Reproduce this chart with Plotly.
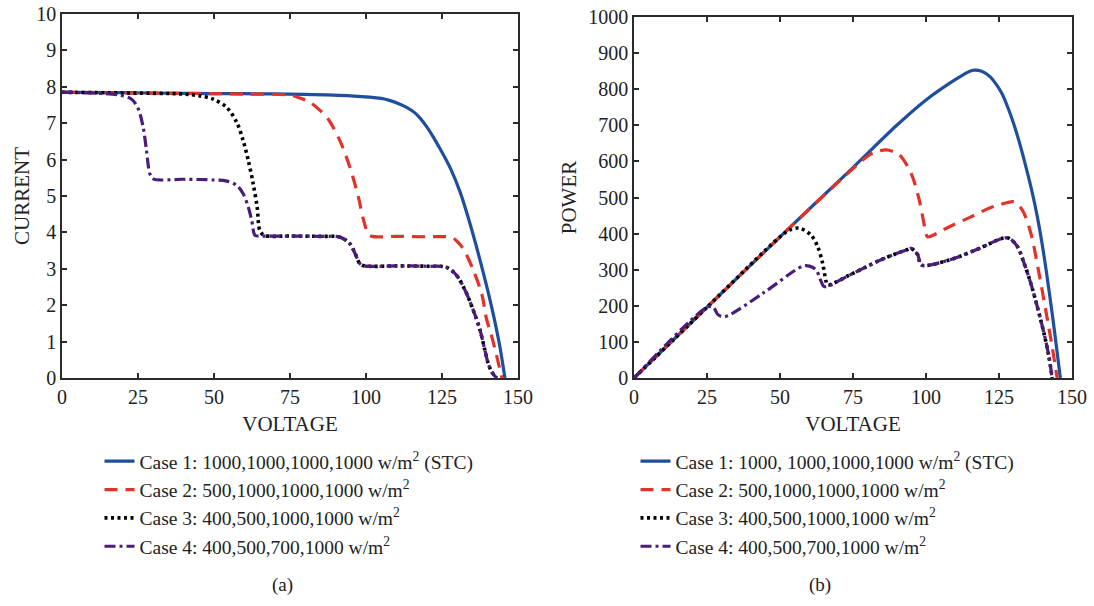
import plotly.graph_objects as go

# ---------------- I-V data (panel a) ----------------
c1_iv_v = [0, 20, 40, 60, 80, 95, 105, 108, 111, 113.5, 116, 118, 120, 122, 124, 126, 128, 131, 134, 137, 140, 142, 144, 145.7]
c1_iv_i = [7.85, 7.84, 7.82, 7.81, 7.79, 7.75, 7.68, 7.62, 7.53, 7.43, 7.29, 7.12, 6.90, 6.64, 6.35, 6.05, 5.72, 5.10,
           4.30, 3.40, 2.42, 1.70, 0.88, 0.0]

c2_iv_v = [0, 20, 40, 60, 75, 78.3, 81.6, 84.5, 87.6, 91.4, 94.7, 97.5, 99.1, 100.8, 102, 110, 120, 128.2,
           130, 132, 135.3, 138.1, 139.7, 141, 143, 144.7]
c2_iv_i = [7.85, 7.83, 7.82, 7.80, 7.77, 7.69, 7.57, 7.38, 7.11, 6.52, 5.79, 4.97, 4.37, 3.95, 3.89, 3.89, 3.88, 3.86,
           3.75, 3.55, 2.96, 2.30, 1.60, 1.25, 0.60, 0.0]

c3_iv_v = [0, 20, 40, 45.4, 49.8, 54.2, 57.5, 59.6, 61.3, 62.9, 64.2, 65.1, 66.5, 75, 85, 91.4, 94.7, 96.4, 98,
           99.5, 110, 120, 126.5, 129.8, 132.6, 135.3, 137.5, 139.1, 140.2, 141.5, 143]
c3_iv_i = [7.85, 7.83, 7.80, 7.75, 7.66, 7.43, 7.02, 6.52, 5.97, 5.33, 4.69, 4.05, 3.92, 3.90, 3.89, 3.87, 3.69, 3.42, 3.14,
           3.08, 3.08, 3.07, 3.04, 2.82, 2.41, 1.86, 1.32, 0.77, 0.40, 0.15, 0.0]

c4_iv_v = [0, 10, 19.1, 22.9, 25.1, 26.7, 27.8, 28.9, 30, 40, 50, 54.2, 57.5, 59.6, 61.3, 62.4, 63.5, 65, 75, 85,
           91.4, 94.7, 96.4, 98, 99.5, 110, 120, 126.5, 129.8, 132.6, 135.3, 137.5, 139.1, 140.2, 141.5, 143]
c4_iv_i = [7.85, 7.83, 7.77, 7.66, 7.39, 6.89, 6.25, 5.61, 5.47, 5.46, 5.44, 5.41, 5.29, 5.06, 4.69, 4.33, 3.92, 3.90, 3.90, 3.89,
           3.87, 3.69, 3.42, 3.14, 3.08, 3.08, 3.07, 3.04, 2.82, 2.41, 1.86, 1.32, 0.77, 0.40, 0.15, 0.0]

# ---------------- P-V data (panel b) ----------------
c1_pv_v = [0, 25, 50, 75, 90, 100, 108, 113, 115, 116.5, 118, 120, 122, 124, 126, 128, 130, 132, 134, 136, 138,
           140, 142, 144, 146]
c1_pv_p = [0, 196, 391, 583, 700, 770, 816, 841, 850, 853, 852, 846, 834, 814, 788, 750, 705, 652, 592, 527, 452,
           360, 250, 130, 0]

c2_pv_v = [0, 25, 50, 75, 80.6, 83.5, 86.3, 88.5, 90.9, 94.9, 97.7, 100, 100.5, 108, 115, 121.6, 126, 130.2,
           133, 135.9, 138.7, 141, 143.2, 144.9]
c2_pv_p = [0, 196, 391, 580, 618, 628, 632, 628, 618, 567, 493, 401, 391, 419, 445, 470, 482, 488,
           465, 401, 290, 188, 87, 0]

c3_pv_v = [0, 25, 50, 53.3, 56.7, 60.6, 62.9, 64.6, 65.8, 66.4, 73.8, 85, 93.7, 94.9, 97.2, 98.4, 108, 118,
           126.2, 128.5, 131.3, 133.6, 135.9, 138.1, 140.4, 142.1, 143.2]
c3_pv_p = [0, 196, 391, 410, 415, 396, 364, 318, 267, 258, 285, 329, 356, 359, 341, 313, 327, 358,
           387, 387, 364, 318, 262, 198, 124, 59, 0]

c4_pv_v = [0, 25, 27.1, 28.8, 31.1, 44.2, 57.8, 60.1, 62.4, 64.1, 65.2, 73.8, 85, 93.7, 94.9, 97.2, 98.4, 108,
           118, 126.2, 128.5, 131.3, 133.6, 135.9, 138.1, 140.4, 142.1, 143.2]
c4_pv_p = [0, 196, 197, 175, 170, 235, 310, 310, 299, 267, 253, 285, 329, 356, 359, 341, 313, 327,
           358, 387, 387, 364, 318, 262, 198, 124, 59, 0]

names_a = ["Case 1: 1000,1000,1000,1000 w/m<sup>2</sup> (STC)",
           "Case 2: 500,1000,1000,1000 w/m<sup>2</sup>",
           "Case 3: 400,500,1000,1000 w/m<sup>2</sup>",
           "Case 4: 400,500,700,1000 w/m<sup>2</sup>"]
names_b = ["Case 1: 1000, 1000,1000,1000 w/m<sup>2</sup> (STC)",
           "Case 2: 500,1000,1000,1000 w/m<sup>2</sup>",
           "Case 3: 400,500,1000,1000 w/m<sup>2</sup>",
           "Case 4: 400,500,700,1000 w/m<sup>2</sup>"]

x_ticks = [0, 25, 50, 75, 100, 125, 150]
i_ticks = [0, 1, 2, 3, 4, 5, 6, 7, 8, 9, 10]
p_ticks = [0, 100, 200, 300, 400, 500, 600, 700, 800, 900, 1000]

FONT = "Liberation Serif"
styles = [
    dict(color="#1f4e9e", width=3.2, dash="solid"),
    dict(color="#e2332a", width=3.2, dash="13px,8px"),
    dict(color="#000000", width=3.6, dash="3px,3.5px"),
    dict(color="#4a1d78", width=3.2, dash="11px,4px,3px,4px"),
]

iv_sets = [(c1_iv_v, c1_iv_i), (c2_iv_v, c2_iv_i), (c3_iv_v, c3_iv_i), (c4_iv_v, c4_iv_i)]
pv_sets = [(c1_pv_v, c1_pv_p), (c2_pv_v, c2_pv_p), (c3_pv_v, c3_pv_p), (c4_pv_v, c4_pv_p)]

fig = go.Figure()
for k, (v, i) in enumerate(iv_sets):
    fig.add_trace(go.Scatter(x=v, y=i, mode="lines", name=names_a[k],
                             line=dict(shape="spline", smoothing=0.9, **styles[k]),
                             xaxis="x", yaxis="y", legend="legend", legendgroup="a%d" % k))
for k, (v, p) in enumerate(pv_sets):
    fig.add_trace(go.Scatter(x=v, y=p, mode="lines", name=names_b[k],
                             line=dict(shape="spline", smoothing=0.9, **styles[k]),
                             xaxis="x2", yaxis="y2", legend="legend2", legendgroup="b%d" % k))

W, H = 1094, 606


def px(x):
    return x / W


def py(y):
    return 1 - y / H


TICK_SIZE = 20
TITLE_SIZE = 21
axis_common = dict(showline=True, linecolor="#2b2b2b", linewidth=1.5, mirror="ticks", ticks="inside",
                   ticklen=5, tickwidth=1.5, tickcolor="#2b2b2b", showgrid=False, zeroline=False,
                   automargin=False, tickfont=dict(family=FONT, size=TICK_SIZE, color="#222"))

fig.update_layout(
    width=W, height=H, margin=dict(l=0, r=0, t=0, b=0, autoexpand=False),
    paper_bgcolor="white", plot_bgcolor="white",
    font=dict(family=FONT, color="#222"),
    xaxis=dict(domain=[px(62), px(518)], range=[0, 150], tickvals=x_ticks, anchor="y",
               title=dict(text="VOLTAGE", font=dict(family=FONT, size=TITLE_SIZE), standoff=10), **axis_common),
    yaxis=dict(domain=[py(378), py(14)], range=[0, 10], tickvals=i_ticks, anchor="x",
               title=dict(text="CURRENT", font=dict(family=FONT, size=TITLE_SIZE), standoff=1), **axis_common),
    xaxis2=dict(domain=[px(634), px(1072)], range=[0, 150], tickvals=x_ticks, anchor="y2",
                title=dict(text="VOLTAGE", font=dict(family=FONT, size=TITLE_SIZE), standoff=10), **axis_common),
    yaxis2=dict(domain=[py(378), py(17)], range=[0, 1000], tickvals=p_ticks, anchor="x2",
                title=dict(text="POWER", font=dict(family=FONT, size=TITLE_SIZE), standoff=6), **axis_common),
    legend=dict(x=px(99.5), y=py(442), xanchor="left", yanchor="top", tracegroupgap=0,
                font=dict(family=FONT, size=19.5, color="#222"), bgcolor="rgba(0,0,0,0)"),
    legend2=dict(x=px(635.5), y=py(442), xanchor="left", yanchor="top", tracegroupgap=0,
                 font=dict(family=FONT, size=19.5, color="#222"), bgcolor="rgba(0,0,0,0)"),
    showlegend=True,
    annotations=[
        dict(text="(a)", x=px(282), y=py(585), xref="paper", yref="paper", showarrow=False,
             xanchor="center", yanchor="middle", font=dict(family=FONT, size=19, color="#222")),
        dict(text="(b)", x=px(820), y=py(585), xref="paper", yref="paper", showarrow=False,
             xanchor="center", yanchor="middle", font=dict(family=FONT, size=19, color="#222")),
    ],
)

fig.write_html("out.html")
